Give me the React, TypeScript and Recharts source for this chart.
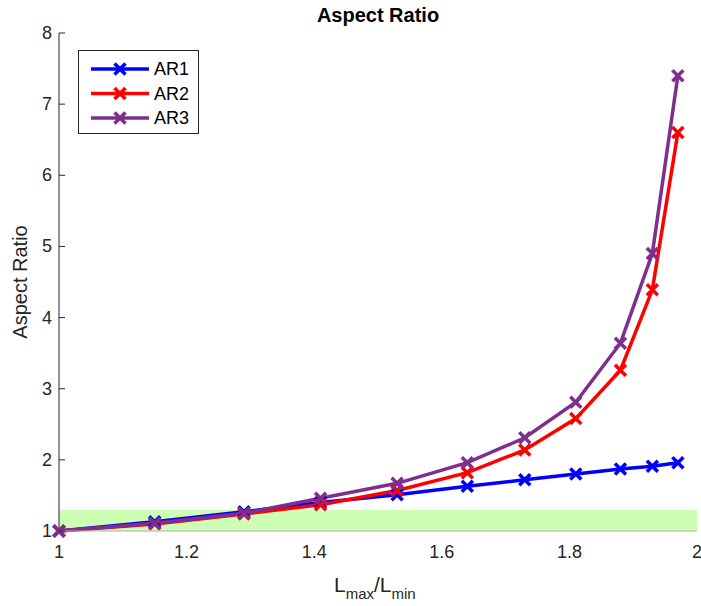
import {LineChart, Line, XAxis, YAxis, ReferenceArea, Label} from "recharts";

const ratio = [1, 1.15, 1.29, 1.41, 1.53, 1.64, 1.73, 1.81, 1.88, 1.93, 1.97];
const ar1 = [1, 1.13, 1.27, 1.4, 1.51, 1.63, 1.72, 1.8, 1.87, 1.91, 1.96];
const ar2 = [1, 1.1, 1.24, 1.37, 1.57, 1.82, 2.14, 2.58, 3.26, 4.39, 6.6];
const ar3 = [1, 1.11, 1.25, 1.46, 1.67, 1.96, 2.31, 2.81, 3.64, 4.9, 7.4];
const xTicks = [1, 1.2, 1.4, 1.6, 1.8, 2];
const yTicks = [1, 2, 3, 4, 5, 6, 7, 8];
const band = {low: 1, high: 1.3};

const series = [
    {key: "AR1", color: "#0000ff"},
    {key: "AR2", color: "#ff0000"},
    {key: "AR3", color: "#7e2f8e"},
];

const data = ratio.map((r, i) => ({r, AR1: ar1[i], AR2: ar2[i], AR3: ar3[i]}));

const font = "'Liberation Sans', Arial, sans-serif";

const Cross = (props: any) => {
    const {cx, cy, stroke} = props;
    if (cx == null || cy == null) return null;
    const s = 5.5;
    return <g>
        <line x1={cx - s} y1={cy - s} x2={cx + s} y2={cy + s} stroke={stroke} strokeWidth={3.5}/>
        <line x1={cx - s} y1={cy + s} x2={cx + s} y2={cy - s} stroke={stroke} strokeWidth={3.5}/>
    </g>;
};

const YTick = (props: any) => {
    const {x, y, payload} = props;
    return <g>
        <line x1={x} y1={y} x2={x + 6} y2={y} stroke="#262626" strokeWidth={1}/>
        <text x={x - 7} y={y + 6} textAnchor="end" fontSize={18} fontFamily={font} fill="#262626">{payload.value}</text>
    </g>;
};

const XTick = (props: any) => {
    const {x, y, payload} = props;
    return <text x={x} y={y + 27} textAnchor="middle" fontSize={18} fontFamily={font} fill="#262626">{payload.value}</text>;
};

// legend drawn outside the chart so it does not take layout space
const LegendBox = () => (
    <svg width={121} height={84} style={{position: "absolute", left: 78, top: 50}}>
        <rect x={0.5} y={0.5} width={120} height={83} fill="#fff" stroke="#262626" strokeWidth={1}/>
        {series.map((s, i) => {
            const cy = 19 + i * 24.5;
            return <g key={s.key}>
                <line x1={13} y1={cy} x2={71} y2={cy} stroke={s.color} strokeWidth={3.5}/>
                <Cross cx={42} cy={cy} stroke={s.color}/>
                <text x={76} y={cy + 6} fontSize={18} fontFamily={font} fill="#000">{s.key}</text>
            </g>;
        })}
    </svg>
);

export default function App() {
    return <div style={{position: "absolute", left: 0, top: 0, width: 701, height: 606, background: "#fff"}}>
        <LineChart width={701} height={606} data={data}
                   margin={{top: 33, right: 4, left: 0, bottom: 0}}>
            <ReferenceArea x1={1} x2={2} y1={band.low} y2={band.high} fill="#ccffb3" fillOpacity={1}
                           stroke="none" ifOverflow="visible"/>
            <XAxis dataKey="r" type="number" domain={[1, 2]} ticks={xTicks} height={75}
                   axisLine={{stroke: "#b0b0b0"}} tickLine={false} tickSize={0} tickMargin={0}
                   tick={<XTick/>} interval={0}>
                <Label content={(p: any) => {
                    const vb = p.viewBox;
                    const cx = vb.x + vb.width / 2;
                    return <text x={cx - 44} y={592} fontSize={21} fontFamily={font} fill="#262626">
                        L<tspan fontSize={15} dy={7}>max</tspan><tspan dy={-7}>/L</tspan><tspan fontSize={15} dy={7}>min</tspan>
                    </text>;
                }}/>
            </XAxis>
            <YAxis type="number" domain={[1, 8]} ticks={yTicks} width={59} interval={0}
                   axisLine={{stroke: "#262626"}} tickLine={false} tickSize={0} tickMargin={0}
                   tick={<YTick/>}>
                <Label content={(p: any) => {
                    const vb = p.viewBox;
                    const cy = vb.y + vb.height / 2;
                    return <text x={27} y={cy} transform={`rotate(-90 27 ${cy})`} textAnchor="middle"
                                 fontSize={20} fontFamily={font} fill="#262626">Aspect Ratio</text>;
                }}/>
            </YAxis>
            {series.map(s => (
                <Line key={s.key} dataKey={s.key} type="linear" stroke={s.color} strokeWidth={3.5}
                      dot={<Cross/>} activeDot={false} isAnimationActive={false}/>
            ))}
        </LineChart>
        <div style={{
            position: "absolute", left: 59, width: 638, top: 4, textAlign: "center",
            fontFamily: font, fontWeight: "bold", fontSize: 20, color: "#000"
        }}>Aspect Ratio</div>
        <LegendBox/>
    </div>;
}
